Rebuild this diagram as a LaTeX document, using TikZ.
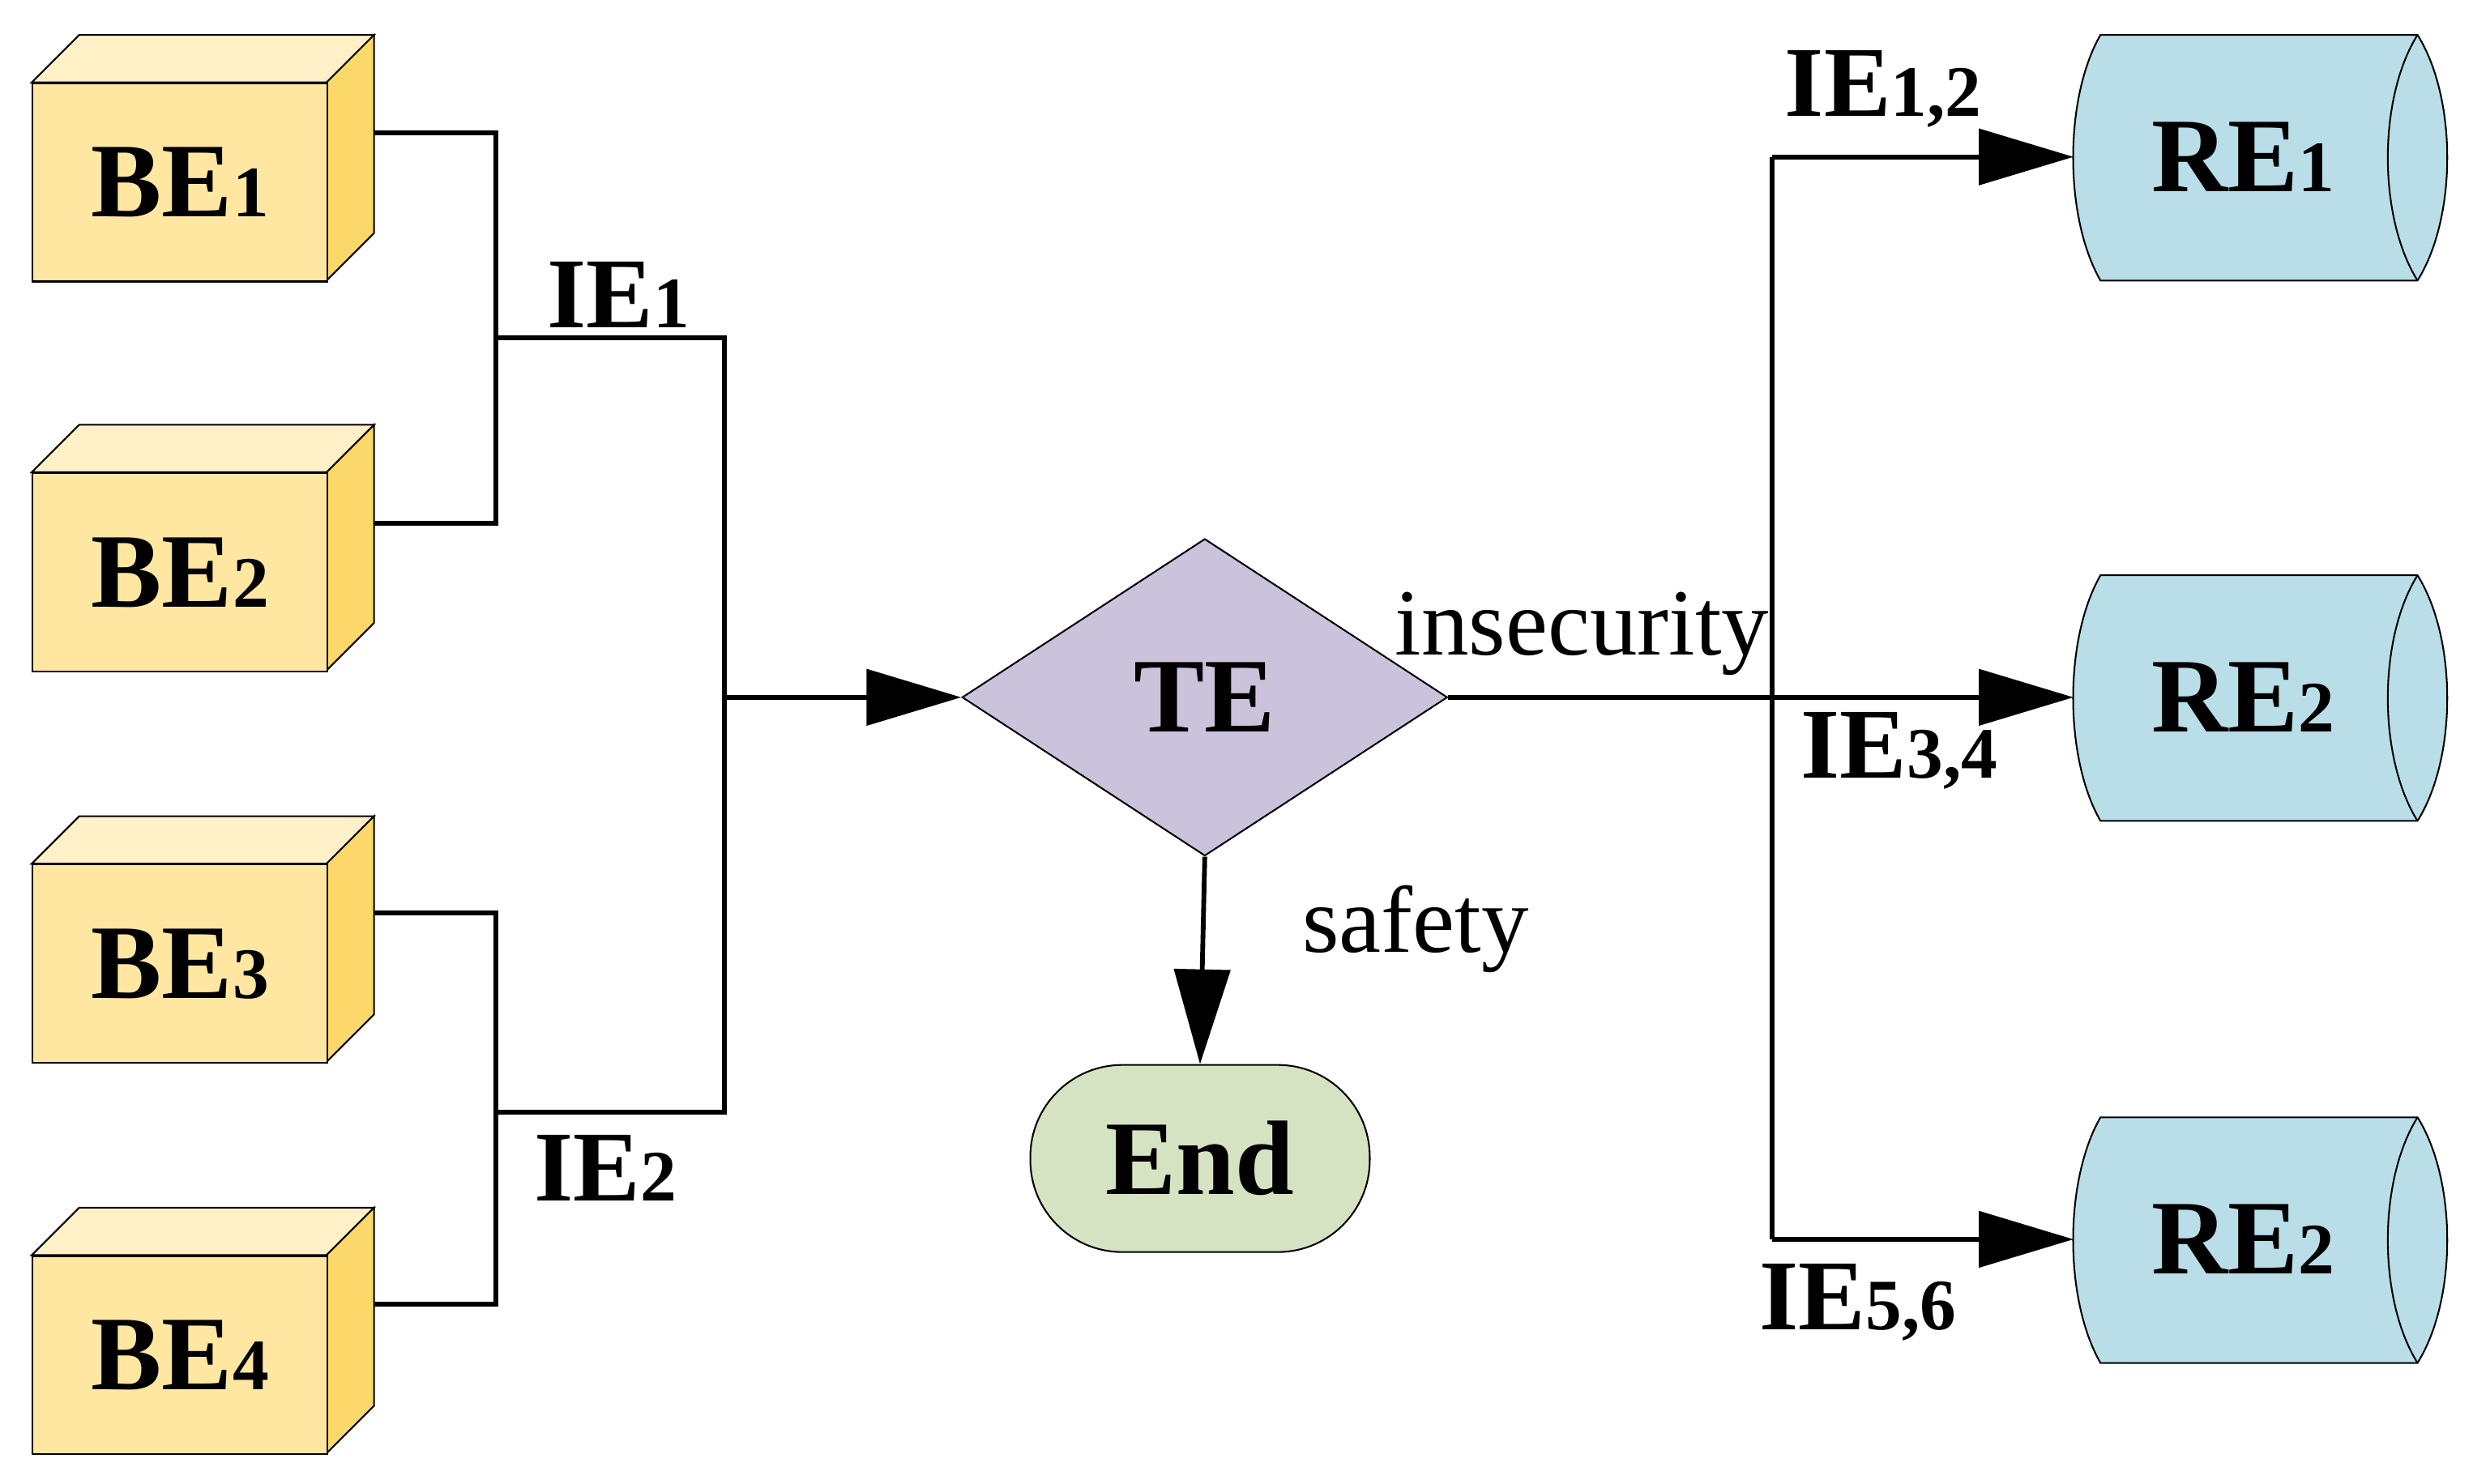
\documentclass[tikz,border=0pt]{standalone}
\usepackage{fontspec}
\setmainfont{Liberation Serif}
\usetikzlibrary{arrows.meta,shapes.geometric}
\definecolor{bef}{HTML}{FFE7A2}
\definecolor{bet}{HTML}{FFF0C8}
\definecolor{bes}{HTML}{FCD86A}
\definecolor{tec}{HTML}{CBC3DB}
\definecolor{rec}{HTML}{B9DEE8}
\definecolor{enc}{HTML}{D6E3C2}
\newcommand{\sm}[1]{{\fontsize{13pt}{13pt}\selectfont #1}}
\tikzset{
 lbl/.style={font=\bfseries\fontsize{19pt}{19pt}\selectfont},
 ie/.style={font=\bfseries\fontsize{18pt}{18pt}\selectfont},
 wire/.style={line width=0.85pt},
 arr/.style={wire,-{Triangle[length=17pt,width=10pt]}},
}
\newcommand{\bebox}[3]{%
 \fill[bet,draw=black,line width=0.3pt] (20,#1) -- (50,#1-30) -- (236,#1-30) -- (206,#1) -- cycle;
 \fill[bes,draw=black,line width=0.3pt] (206,#1) -- (236,#1-30) -- (236,#1+95) -- (206,#1+125) -- cycle;
 \node[fill=bef,draw=black,line width=0.3pt,minimum width=1.86cm,minimum height=1.25cm,inner sep=0,anchor=north west,lbl] (#2) at (20,#1) {BE\sm{#3}};}
\newcommand{\rebox}[3]{%
 \fill[rec,draw=black,line width=0.3pt] (1325,#1) -- (1525,#1) .. controls (1550,#1+40) and (1550,#1+115) .. (1525,#1+155) -- (1325,#1+155) .. controls (1302,#1+115) and (1302,#1+40) .. (1325,#1) -- cycle;
 \draw[line width=0.3pt] (1525,#1) .. controls (1500,#1+40) and (1500,#1+115) .. (1525,#1+155);
 \node[lbl] (#2) at (1415,#1+77) {RE\sm{#3}};
 \coordinate (#2w) at (1308,#1+77);}
\begin{document}
\begin{tikzpicture}[x=0.01cm,y=-0.01cm]
\useasboundingbox (0,0) rectangle (1560,936);
\bebox{52}{be1}{1}
\bebox{298}{be2}{2}
\bebox{545}{be3}{3}
\bebox{792}{be4}{4}
\rebox{22}{re1}{1}
\rebox{363}{re2}{2}
\rebox{705}{re3}{2}
\node[diamond,aspect=1.53,fill=tec,draw=black,line width=0.3pt,minimum width=3.06cm,minimum height=2cm,inner sep=0,lbl] (te) at (760,440) {TE};
\node[rounded corners=0.58cm,fill=enc,draw=black,line width=0.3pt,minimum width=2.14cm,minimum height=1.18cm,lbl] (end) at (757,731) {End};
\coordinate (a1) at (236,84); \coordinate (a2) at (236,330);
\coordinate (a3) at (236,576); \coordinate (a4) at (236,823);
\draw[wire] (a1) -- (313,84) -- (313,330) -- (a2);
\draw[wire] (a3) -- (313,576) -- (313,823) -- (a4);
\draw[wire] (313,213) -- (457,213) -- (457,702) -- (313,702);
\draw[arr] (457,440) -- (te.west);
\draw[wire] (te.east) -- (1118,440);
\draw[wire] (1118,99) -- (1118,782);
\draw[arr] (1118,99) -- (re1w);
\draw[arr] (1118,440) -- (re2w);
\draw[arr] (1118,782) -- (re3w);
\draw[arr] (te.south) -- (end.north);
\node[ie] at (390,186) {IE\sm{1}};
\node[ie] at (382,737) {IE\sm{2}};
\node[ie] at (1188,56) {IE\sm{1,2}};
\node[ie] at (1198,474) {IE\sm{3,4}};
\node[ie] at (1172,822) {IE\sm{5,6}};
\node[font=\fontsize{17pt}{17pt}\selectfont] at (998,400) {insecurity};
\node[font=\fontsize{17pt}{17pt}\selectfont] at (893,586) {safety};
\end{tikzpicture}
\end{document}
